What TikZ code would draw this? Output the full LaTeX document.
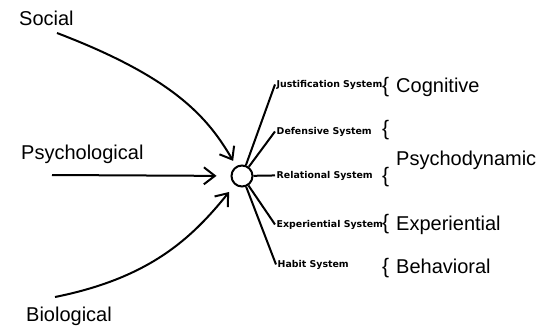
\documentclass[tikz,border=0pt]{standalone}
\usepackage{fontspec}
\setmainfont{Liberation Sans}
\newfontfamily\sysfont{DejaVu Sans}
\usetikzlibrary{arrows.meta}

\tikzset{
  biglabel/.style={font=\fontsize{20}{24}\selectfont, inner sep=0pt, anchor=base west},
  syslabel/.style={font=\sysfont\bfseries\fontsize{9.4}{11}\selectfont, inner sep=1.5pt, anchor=base west},
  bracelabel/.style={font=\fontsize{21}{24}\selectfont, inner sep=0pt, anchor=base west},
  hubcirc/.style={circle, draw, line width=2pt, minimum size=21pt, inner sep=0pt},
  inarrow/.style={line width=2pt, -{Straight Barb[length=11pt, width=17pt]}},
  spoke/.style={line width=2pt}
}

\begin{document}
\begin{tikzpicture}[x=1pt, y=-1pt]
\useasboundingbox (0,0) rectangle (539,327);
\node[biglabel] (social) at (19,25) {Social};
\node[biglabel] (psych) at (21,159) {Psychological};
\node[biglabel] (bio) at (26,321) {Biological};
\coordinate (socialstart) at (57,33);
\coordinate (psychstart) at (52,175);
\coordinate (biostart) at (55,297);
\node[hubcirc] (hub) at (242,176) {};
\draw[inarrow, shorten >=6pt] (socialstart) .. controls (175,78) and (208,118) .. (hub);
\draw[inarrow, shorten >=14pt] (psychstart) -- (hub);
\draw[inarrow, shorten >=9pt] (biostart) .. controls (150,278) and (192,238) .. (hub);
\node[syslabel] (just) at (275,87) {Justification System};
\node[syslabel] (def) at (275,134) {Defensive System};
\node[syslabel] (rel) at (275,178) {Relational System};
\node[syslabel] (exp) at (275,227) {Experiential System};
\node[syslabel] (habit) at (276,267) {Habit System};
\draw[spoke] (hub) -- (just.west);
\draw[spoke] (hub) -- (def.west);
\draw[spoke] (hub) -- (rel.west);
\draw[spoke] (hub) -- (exp.west);
\draw[spoke] (hub) -- (habit.west);
\node[bracelabel] (brcog) at (382,92) {\{};
\node[bracelabel] (brdef) at (382,135) {\{};
\node[bracelabel] (brrel) at (382,182) {\{};
\node[bracelabel] (brexp) at (382,229) {\{};
\node[bracelabel] (brbeh) at (382,273) {\{};
\node[biglabel] (cog) at (396,92) {Cognitive};
\node[biglabel] (psydyn) at (396,165) {Psychodynamic};
\node[biglabel] (expl) at (396,230) {Experiential};
\node[biglabel] (beh) at (396,273) {Behavioral};
\end{tikzpicture}
\end{document}
